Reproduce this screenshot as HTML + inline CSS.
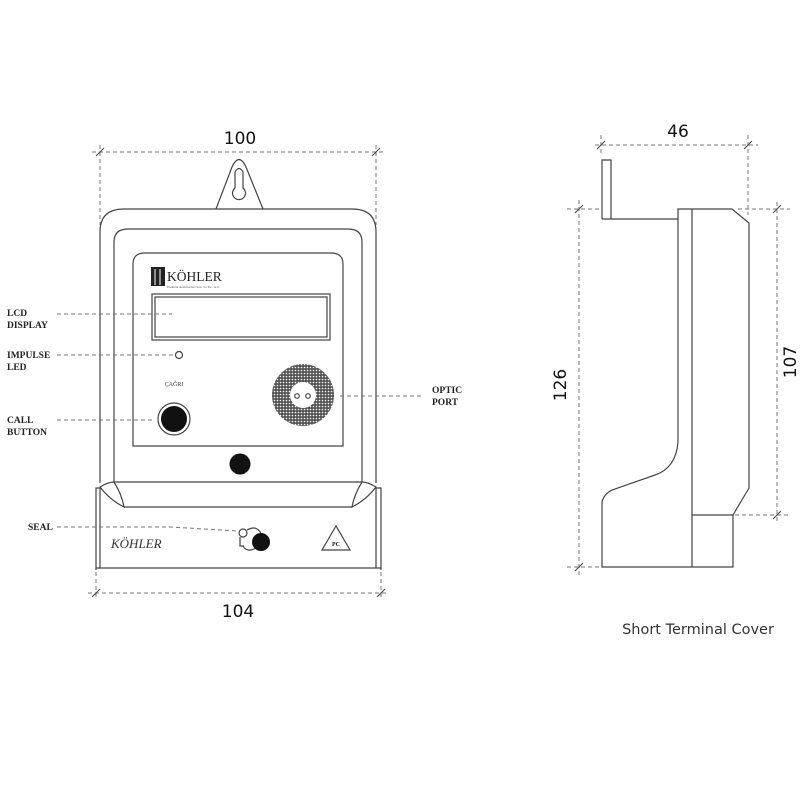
<!DOCTYPE html>
<html><head><meta charset="utf-8"><style>
html,body{margin:0;padding:0;background:#fff;}
svg{display:block}
.l{fill:none;stroke:#444;stroke-width:1.2}
.d{fill:none;stroke:#777;stroke-width:1;stroke-dasharray:4,3}
.lab{font-family:"Liberation Serif",serif;font-weight:bold;font-size:9.5px;fill:#222}
.dim{font-family:"DejaVu Sans","Liberation Sans",sans-serif;font-size:17px;fill:#111}
</style></head><body>
<svg width="800" height="800" viewBox="0 0 800 800">
<defs>
<pattern id="mesh" width="3" height="3" patternUnits="userSpaceOnUse">
<rect width="3" height="3" fill="#555"/><circle cx="1.5" cy="1.5" r="0.8" fill="#fff"/>
</pattern>
</defs>
<!-- dimension 100 -->
<text class="dim" x="240" y="144" text-anchor="middle">100</text>
<line class="d" x1="92" y1="152" x2="385" y2="152"/>
<line class="d" x1="100" y1="145" x2="100" y2="225"/>
<line class="d" x1="376" y1="145" x2="376" y2="225"/>
<line x1="96" y1="156" x2="104" y2="148" stroke="#444"/>
<line x1="372" y1="156" x2="380" y2="148" stroke="#444"/>
<!-- tab -->
<path class="l" d="M216,209 L232,167 Q239,152 246,167 L263,209"/>
<path class="l" d="M235,188 L235,172 Q239,165 243,172 L243,188 A6.5,6.5 0 1 1 235,188 Z"/>
<!-- outer body -->
<path class="l" d="M100,483 L100,232 Q100,209 124,209 L352,209 Q376,209 376,232 L376,483"/>
<path class="l" d="M114,482 L114,242 Q114,229 128,229 L348,229 Q362,229 362,242 L362,482"/>
<path class="l" d="M133,446 L133,264 Q133,253 145,253 L331,253 Q343,253 343,264 L343,446 Z"/>
<!-- logo -->
<rect x="151" y="267" width="14" height="19" fill="#222"/>
<line x1="155" y1="269" x2="155" y2="285" stroke="#fff" stroke-width="1"/>
<line x1="160" y1="269" x2="160" y2="285" stroke="#fff" stroke-width="1"/>
<text x="167" y="281" font-family="Liberation Serif,serif" font-size="13.5" fill="#222">KÖHLER</text>
<text x="167" y="288" font-family="Liberation Serif,serif" font-size="3.5" fill="#555">Elektrik Armaturlari San. ve Tic. A.S.</text>
<!-- LCD -->
<rect class="l" x="152" y="294" width="178" height="46"/>
<rect class="l" x="155" y="297" width="172" height="40" stroke-width="0.8"/>
<!-- LED -->
<circle class="l" cx="179" cy="355" r="3.5"/>
<text x="174" y="386" text-anchor="middle" font-family="Liberation Serif,serif" font-size="6" fill="#333">ÇAĞRI</text>
<!-- call button -->
<circle class="l" cx="174" cy="419" r="16"/>
<circle cx="174" cy="419" r="13" fill="#111"/>
<!-- optic -->
<circle cx="303" cy="395" r="31" fill="url(#mesh)"/>
<circle cx="303" cy="395" r="13" fill="#fff"/>
<circle class="l" cx="297" cy="396" r="2.3" stroke-width="0.8"/>
<circle class="l" cx="308" cy="396" r="2.3" stroke-width="0.8"/>
<circle cx="240" cy="464" r="10.5" fill="#111"/>
<!-- bottom -->
<path class="l" d="M96,570 L96,488 L100,488 M100,488 L100,568 M376,488 L376,568 M376,488 L381,488 L381,570 M96,568 L381,568"/>
<path class="l" d="M114,482 L362,482"/>
<path class="l" d="M124,507 L352,507"/>
<path class="l" d="M100,487 Q108,482 114,482 Q122,495 124,507 Q110,500 100,487 Z"/>
<path class="l" d="M376,487 Q368,482 362,482 Q354,495 352,507 Q366,500 376,487 Z"/>
<text x="111" y="548" font-family="Liberation Serif,serif" font-style="italic" font-size="13" fill="#333">KÖHLER</text>
<!-- seal -->
<circle class="l" cx="243" cy="533" r="4"/>
<path class="l" d="M240,537 L240,546 L244,546 M247,530 Q258,524 262,536 M243,546 Q247,553 256,548" stroke-width="0.8"/>
<circle cx="261" cy="542" r="9" fill="#111"/>
<!-- recycle -->
<path class="l" d="M336,526 L322,550 L350,550 Z"/>
<text x="336" y="546" text-anchor="middle" font-family="Liberation Serif,serif" font-weight="bold" font-size="6" fill="#222">PC</text>
<!-- dim 104 -->
<line class="d" x1="88" y1="593" x2="388" y2="593"/>
<line class="d" x1="96" y1="572" x2="96" y2="600"/>
<line class="d" x1="381" y1="572" x2="381" y2="600"/>
<line x1="92" y1="597" x2="100" y2="589" stroke="#444"/>
<line x1="377" y1="597" x2="385" y2="589" stroke="#444"/>
<text class="dim" x="238" y="617" text-anchor="middle">104</text>
<!-- labels -->
<text class="lab" x="7" y="316">LCD</text><text class="lab" x="7" y="328">DISPLAY</text>
<line class="d" x1="57" y1="314" x2="172" y2="314"/>
<text class="lab" x="7" y="358">IMPULSE</text><text class="lab" x="7" y="370">LED</text>
<line class="d" x1="57" y1="355" x2="173" y2="355"/>
<text class="lab" x="7" y="423">CALL</text><text class="lab" x="7" y="435">BUTTON</text>
<line class="d" x1="57" y1="420" x2="155" y2="420"/>
<text class="lab" x="28" y="530">SEAL</text>
<path class="d" d="M57,527 L170,527 L238,531"/>
<text class="lab" x="432" y="393">OPTIC</text><text class="lab" x="432" y="405">PORT</text>
<line class="d" x1="340" y1="396" x2="422" y2="396"/>
<!-- side view -->
<text class="dim" x="678" y="137" text-anchor="middle">46</text>
<line class="d" x1="595" y1="145" x2="758" y2="145"/>
<line class="d" x1="601" y1="135" x2="601" y2="155"/>
<line class="d" x1="748" y1="135" x2="748" y2="215"/>
<line x1="597" y1="149" x2="605" y2="141" stroke="#444"/>
<line x1="744" y1="149" x2="752" y2="141" stroke="#444"/>
<path class="l" d="M602,219 L602,160 L611,160 L611,219"/>
<path class="l" d="M602,219 L678,219 L678,442 Q676,468 655,475 L612,490 Q604,494 602,502 L602,567 L733,567 L733,515 L749,488 L749,223 L732,209 L678,209 L678,219"/>
<line class="l" x1="692" y1="209" x2="692" y2="567"/>
<line class="l" x1="692" y1="515" x2="733" y2="515"/>
<!-- 126 -->
<line class="d" x1="579" y1="200" x2="579" y2="578"/>
<line class="d" x1="567" y1="209" x2="600" y2="209"/>
<line class="d" x1="567" y1="567" x2="600" y2="567"/>
<line x1="575" y1="213" x2="583" y2="205" stroke="#444"/>
<line x1="575" y1="571" x2="583" y2="563" stroke="#444"/>
<text class="dim" transform="translate(566,385) rotate(-90)" text-anchor="middle">126</text>
<!-- 107 -->
<line class="d" x1="777" y1="202" x2="777" y2="524"/>
<line class="d" x1="738" y1="209" x2="790" y2="209"/>
<line class="d" x1="735" y1="515" x2="790" y2="515"/>
<line x1="773" y1="213" x2="781" y2="205" stroke="#444"/>
<line x1="773" y1="519" x2="781" y2="511" stroke="#444"/>
<text class="dim" transform="translate(796,362) rotate(-90)" text-anchor="middle">107</text>
<text x="698" y="634" text-anchor="middle" font-family="DejaVu Sans,Liberation Sans,sans-serif" font-size="14.5" fill="#333">Short Terminal Cover</text>
</svg>
</body></html>
